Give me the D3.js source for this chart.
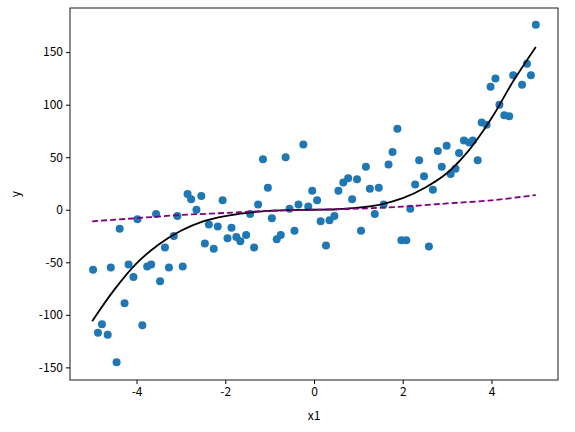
<!DOCTYPE html>
<html>
<head>
<meta charset="utf-8">
<script src="https://cdn.jsdelivr.net/npm/d3@7"></script>
<style>
  body { margin: 0; background: #fff; }
  text { font-family: "Noto Sans CJK KR", "DejaVu Sans", sans-serif; }
</style>
</head>
<body>
<svg id="chart" width="575" height="432"></svg>
<script>
'use strict';

// scatter points
var xs = [-4.98, -4.58, -4.38, -4.78, -4.87, -4.65, -4.45, -4.27, -4.18, -4.07,
  -3.98, -3.87, -3.76, -3.67, -3.56, -3.47, -3.36, -3.27, -3.16, -3.08,
  -2.96, -2.85, -2.77, -2.65, -2.54, -2.46, -2.37, -2.26, -2.17, -2.06,
  -1.95, -1.86, -1.75, -1.66, -1.53, -1.44, -1.35, -1.26, -1.15, -1.04,
  -0.95, -0.84, -0.75, -0.64, -0.55, -0.44, -0.35, -0.24, -0.13, -0.04,
  0.07, 0.15, 0.27, 0.35, 0.46, 0.55, 0.66, 0.77, 0.86, 0.97,
  1.06, 1.17, 1.26, 1.37, 1.46, 1.57, 1.68, 1.77, 1.88, 1.97,
  2.08, 2.17, 2.28, 2.37, 2.48, 2.59, 2.68, 2.79, 2.88, 2.99,
  3.08, 3.19, 3.27, 3.38, 3.50, 3.58, 3.69, 3.78, 3.89, 3.98,
  4.09, 4.18, 4.29, 4.40, 4.49, 4.69, 4.80, 4.89, 5.00];
var ys = [-57, -55, -18, -109, -117, -119, -145, -89, -52, -64,
  -9, -110, -54, -52, -4, -68, -36, -55, -25, -6,
  -54, 15, 10, 0, 13, -32, -14, -37, -16, 9,
  -27, -17, -26, -30, -24, -4, -36, 5, 48, 21,
  -8, -28, -24, 50, 1, -20, 5, 62, 3, 18,
  9, -11, -34, -10, -6, 18, 26, 30, 10, 29,
  -20, 41, 20, -4, 21, 5, 43, 55, 77, -29,
  -29, 1, 24, 47, 32, -35, 19, 56, 41, 61,
  34, 39, 54, 66, 64, 66, 47, 83, 81, 117,
  125, 100, 90, 89, 128, 119, 139, 128, 176];

// fitted curves
var fitX = [-5, -4.5, -4, -3.5, -3, -2.5, -2, -1.5, -1, -0.5, 0, 0.5, 1, 1.5, 2, 2.5, 3, 3.5, 4, 4.5, 5];
var fitY = [-106, -76, -51, -33, -20, -11, -6, -3, -1, -0.3, 0, 0.5, 2, 5, 11, 21, 35, 57, 87, 123, 155];
var linX = [-5, -4, -3, -2, -1, 0, 1, 2, 3, 4, 5];
var linY = [-11, -8, -5, -3, -1, 0, 1, 3, 6, 9, 14];

var xTicks = [-4, -2, 0, 2, 4];
var yTicks = [-150, -100, -50, 0, 50, 100, 150];

var svg = d3.select('#chart');
var m = {left: 70, right: 17, top: 8, bottom: 52};
var W = 575, H = 432;

var x = d3.scaleLinear().domain([-5.5, 5.5]).range([m.left, W - m.right]);
var y = d3.scaleLinear().domain([-162, 192]).range([H - m.bottom, m.top]);

var fmt = function(d) { return String(d); };

svg.append('g')
  .attr('transform', 'translate(0,' + (H - m.bottom) + ')')
  .call(d3.axisBottom(x).tickValues(xTicks).tickFormat(fmt).tickSizeOuter(0).tickSize(4))
  .call(function(g) { g.selectAll('text').attr('font-size', 12).attr('fill', '#000'); });
svg.append('g')
  .attr('transform', 'translate(' + m.left + ',0)')
  .call(d3.axisLeft(y).tickValues(yTicks).tickFormat(fmt).tickSizeOuter(0).tickSize(4))
  .call(function(g) { g.selectAll('text').attr('font-size', 12).attr('fill', '#000'); });

svg.selectAll('.domain').remove();
svg.append('rect')
  .attr('x', m.left).attr('y', m.top)
  .attr('width', W - m.left - m.right).attr('height', H - m.top - m.bottom)
  .attr('fill', 'none').attr('stroke', '#000').attr('stroke-width', 0.9);

svg.append('g').selectAll('circle')
  .data(d3.range(xs.length))
  .enter().append('circle')
  .attr('cx', function(i) { return x(xs[i]); })
  .attr('cy', function(i) { return y(ys[i]); })
  .attr('r', 4)
  .attr('fill', '#1f77b4');

var line = d3.line().curve(d3.curveCatmullRom);
svg.append('path')
  .attr('d', line(fitX.map(function(v, i) { return [x(v), y(fitY[i])]; })))
  .attr('fill', 'none').attr('stroke', '#000').attr('stroke-width', 1.8);
svg.append('path')
  .attr('d', line(linX.map(function(v, i) { return [x(v), y(linY[i])]; })))
  .attr('fill', 'none').attr('stroke', 'purple').attr('stroke-width', 1.8)
  .attr('stroke-dasharray', '6,3');

svg.append('text').attr('x', (m.left + W - m.right) / 2).attr('y', 420)
  .attr('text-anchor', 'middle').attr('font-size', 12).text('x1');
svg.append('text').attr('transform', 'translate(20,' + ((m.top + H - m.bottom) / 2) + ') rotate(-90)')
  .attr('text-anchor', 'middle').attr('font-size', 12).text('y');
</script>
</body>
</html>
